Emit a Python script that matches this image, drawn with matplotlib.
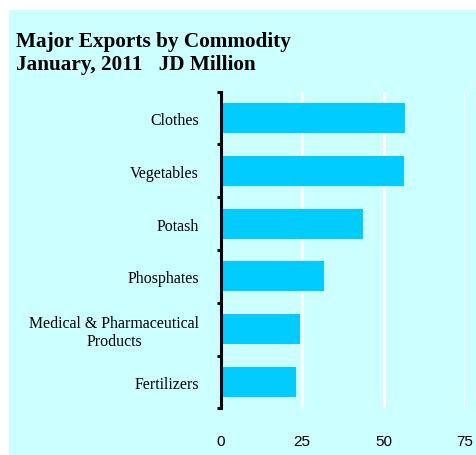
import numpy as np
import matplotlib
matplotlib.use('Agg')
import matplotlib.pyplot as plt
import matplotlib.patches as mpatches

# export values, JD million, top to bottom
categories = ['Clothes', 'Vegetables', 'Potash', 'Phosphates',
              'Medical & Pharmaceutical\nProducts', 'Fertilizers']
values = [56.5, 56.2, 43.6, 31.7, 24.3, 23.2]
x_ticks = [0, 25, 50, 75]

W, H = 476, 456
fig = plt.figure(figsize=(W / 100, H / 100), dpi=100)
fig.patch.set_facecolor('white')

# light cyan panel behind everything
panel = mpatches.Rectangle((9 / W, 0), 1 - 9 / W, (H - 11) / H,
                           transform=fig.transFigure, facecolor='#CCFFFF',
                           edgecolor='none', zorder=-5)
fig.patches.append(panel)

left, right = 220.5 / W, 465 / W
top, bottom = 1 - 92.7 / H, 1 - 409.3 / H
ax = fig.add_axes([left, bottom, right - left, top - bottom])
ax.set_facecolor('none')

ypos = np.arange(len(categories))
ax.barh(ypos, values, height=0.57, color='#00CCFF', zorder=3)
ax.set_xlim(0, 75)
ax.set_ylim(len(categories) - 0.5, -0.5)

for x in x_ticks[1:]:
    ax.axvline(x, color='white', lw=2.2, zorder=1)

for s in ['top', 'right', 'bottom']:
    ax.spines[s].set_visible(False)
ax.spines['left'].set_linewidth(2.2)
ax.spines['left'].set_zorder(4)

ax.set_xticks(x_ticks)
ax.set_xticklabels([str(t) for t in x_ticks], fontfamily='Liberation Sans', fontsize=11)
ax.tick_params(axis='x', length=0, pad=18.5)

ax.set_yticks(ypos)
ax.set_yticklabels(categories, fontfamily='Liberation Serif', fontsize=11.4,
                   multialignment='center', linespacing=1.15)
ax.tick_params(axis='y', which='major', length=0, pad=15.5)
ax.set_yticks(np.arange(-0.5, len(categories)), minor=True)
ax.tick_params(axis='y', which='minor', length=3, width=2.2, direction='out')

fig.text(16 / W, 1 - 46.7 / H, 'Major Exports by Commodity', fontfamily='Liberation Serif',
         fontweight='bold', fontsize=15.3, va='baseline', ha='left')
fig.text(16 / W, 1 - 70 / H, 'January, 2011   JD Million', fontfamily='Liberation Serif',
         fontweight='bold', fontsize=15.3, va='baseline', ha='left')

fig.savefig('out.png', dpi=100, facecolor=fig.get_facecolor())
